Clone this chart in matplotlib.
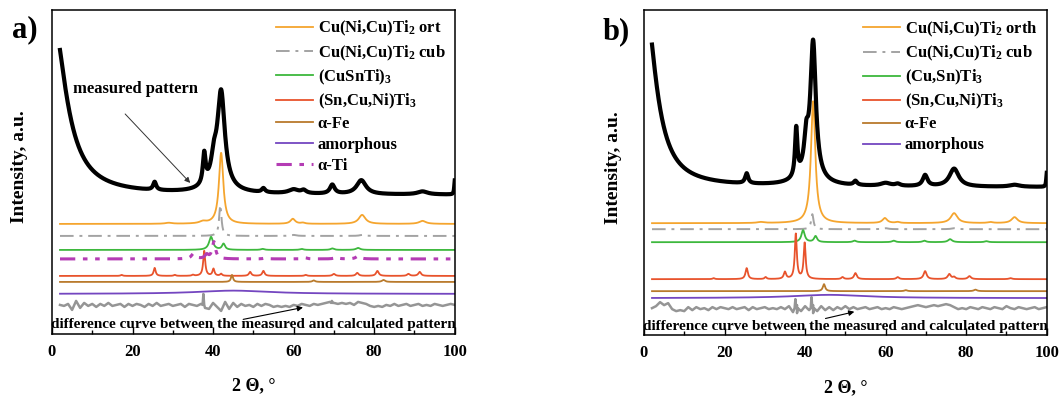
import numpy as np
import matplotlib
matplotlib.use('Agg')
import matplotlib.pyplot as plt
from matplotlib.ticker import MultipleLocator

plt.rcParams['font.family'] = 'Liberation Serif'
plt.rcParams['font.weight'] = 'bold'
plt.rcParams['axes.labelweight'] = 'bold'
plt.rcParams['mathtext.fontset'] = 'custom'
plt.rcParams['mathtext.rm'] = 'Liberation Serif:bold'
plt.rcParams['mathtext.it'] = 'Liberation Serif:bold'
plt.rcParams['mathtext.bf'] = 'Liberation Serif:bold'

#%% peak tables: (2theta, height, fwhm), heights in axis units

# panel a)
meas_a = [(0.0, 181, 8.0), (25.5, 8, 0.9), (37.8, 30, 0.8), (40.2, 18, 1.5), (41.0, 10, 6.0),
          (42.0, 92, 2.2), (52.5, 4, 1.0), (60.0, 4, 3.0), (62.5, 3, 1.5), (69.6, 9, 1.4),
          (76.8, 14, 2.8), (92.0, 3, 3.0), (100.0, 14, 0.3)]
ort_a = [(29.0, 1, 2.0), (37.5, 2, 2.0), (42.0, 71, 1.3), (59.8, 5, 1.4), (62.3, 1, 1.2),
         (77.0, 9, 2.0), (92.0, 3, 2.0)]
cub_a = [(41.8, 31, 0.7), (60.0, 1, 1.5), (77.0, 1, 1.5)]
cusnti_a = [(39.5, 13, 1.2), (42.6, 6, 0.9), (52.3, 1, 1.0), (62.0, 1, 1.0), (69.6, 1.5, 1.0),
            (76.0, 2, 1.2)]
snti_a = [(17.3, 1, 0.6), (25.5, 8, 0.6), (30.5, 1, 0.6), (35.0, 1, 0.6), (37.8, 25, 0.6),
          (40.1, 7, 0.6), (42.0, 2, 0.6), (49.2, 4, 0.7), (52.5, 5, 0.7), (63.0, 1, 0.7),
          (70.0, 2, 0.8), (75.8, 3, 0.8), (80.8, 5, 0.8), (88.5, 2, 0.8), (91.3, 4, 0.8)]
fe_a = [(44.7, 7, 0.6), (65.0, 1.5, 0.8), (82.3, 2, 0.9)]
amorph_a = [(45.0, 3.3, 22.0)]
ti_a = [(35.1, 5, 1.2), (38.4, 4, 1.0), (40.2, 17, 1.0), (53.0, 1, 1.0), (63.0, 1, 1.0),
        (70.6, 2, 1.0), (76.0, 3, 1.2)]

# stacking offsets of each curve (axis units)
base_a = {'meas': 139, 'ort': 110, 'cub': 98, 'cusnti': 84, 'ti': 75, 'snti': 58,
          'fe': 52, 'amorph': 40, 'diff': 29}

# difference curve a) at 2..100 deg, plus sharp spikes
diff_a = [0, -1, 1, -5, 4, -3, 2, -1, 1, -2,
          1, -1, 2, -1, 0, 1, -2, 1, -1, 1,
          0, -2, 1, -1, 2, -1, 0, 1, -1, 0,
          1, -2, 1, 0, -1, 1, -3, -4, 2, -2,
          -6, 3, -4, 2, -2, 1, -1, 0, -2, 1,
          -1, 1, 0, -2, -1, -2, -1, -2, 0, -1,
          1, 0, -1, 1, 0, 1, 2, 3, 2, 1,
          2, 1, 2, 0, 3, 2, 1, -1, -2, -1,
          -2, 0, -1, 1, -1, 0, 1, -1, 0, 1,
          -1, 0, -1, 1, 0, -1, 0, 1, 0]
diff_a_spk_x = [37.4, 37.6, 37.8, 69.3, 69.5, 69.7]
diff_a_spk_y = [0, 11, 0, 2, 4, 2]

# panel b)
meas_b = [(0.0, 195, 6.6), (25.5, 10, 0.9), (37.8, 48, 0.7), (40.3, 30, 1.2), (41.0, 12, 6.0),
          (42.0, 132, 1.6), (52.5, 4, 1.0), (60.0, 3, 3.0), (63.0, 2, 1.5), (69.8, 11, 1.4),
          (77.0, 18, 2.8), (92.0, 2, 3.0), (100.0, 14, 0.3)]
ort_b = [(29.0, 1, 2.0), (42.0, 122, 1.3), (59.8, 5, 1.4), (63.0, 1, 1.2), (77.0, 10, 2.0),
         (86.0, 1, 1.5), (92.0, 6, 1.8)]
cub_b = [(41.8, 15, 0.7), (60.0, 1, 1.5), (77.0, 1, 1.5)]
cusnti_b = [(39.5, 12, 1.0), (42.6, 6, 0.9), (52.3, 1.5, 1.0), (62.0, 1.5, 1.0), (69.6, 1.5, 1.0),
            (76.0, 3, 1.2), (85.0, 1, 1.0)]
snti_b = [(17.3, 1, 0.6), (25.5, 11, 0.7), (30.2, 2, 0.6), (35.0, 7, 0.7), (37.7, 45, 0.6),
          (39.9, 36, 0.6), (49.3, 2, 0.7), (52.5, 6, 0.8), (63.0, 2, 0.8), (69.8, 8, 0.9),
          (75.8, 5, 0.9), (77.0, 2, 0.8), (80.8, 3, 0.9), (91.0, 1, 0.9)]
fe_b = [(44.7, 7, 0.7), (65.0, 1, 0.8), (82.3, 1.5, 0.9)]
amorph_b = [(46.0, 3.3, 22.0)]

base_b = {'meas': 148, 'ort': 112, 'cub': 106, 'cusnti': 93, 'snti': 56,
          'fe': 44, 'amorph': 37, 'diff': 27}

diff_b = [0, 2, 6, 3, 5, -1, -3, -2, -3, 1,
          -2, 1, -1, 0, -2, 1, -1, 1, 0, -1,
          1, -1, 0, 1, -2, 1, -1, 0, 1, -1,
          0, -1, 1, -1, 2, -4, 3, -3, 2, -2,
          3, -3, 2, -2, 1, -2, 1, -1, 2, -1,
          1, -1, 0, 1, -1, 0, 1, -1, 0, -1,
          1, 0, -1, 0, 1, 2, 3, 2, 1, 2,
          3, 2, 3, 4, 3, 1, -1, 0, -1, 1,
          0, -1, 1, 0, -1, 1, 0, -1, 2, 0,
          -1, 1, 0, -1, 0, 1, -1, 0, 1]
diff_b_spk_x = [37.4, 37.6, 37.8, 38.0, 38.2, 41.4, 41.6, 41.8, 42.0, 42.2]
diff_b_spk_y = [0, 9, 0, -5, 0, 0, 11, 0, -5, 0]

labels_a = ['Cu(Ni,Cu)Ti$_2$ ort', 'Cu(Ni,Cu)Ti$_2$ cub', '(CuSnTi)$_3$', '(Sn,Cu,Ni)Ti$_3$',
            '\u03b1-Fe', 'amorphous', '\u03b1-Ti']
labels_b = ['Cu(Ni,Cu)Ti$_2$ orth', 'Cu(Ni,Cu)Ti$_2$ cub', '(Cu,Sn)Ti$_3$', '(Sn,Cu,Ni)Ti$_3$',
            '\u03b1-Fe', 'amorphous']

#%%
x = np.linspace(2, 100, 4000)


def profile(peaks):
    y = np.zeros_like(x)
    for pos, h, w in peaks:
        y += h / (1 + ((x - pos) / (w / 2)) ** 2)
    return y


def diff_curve(vals, spk_x, spk_y):
    dx = np.concatenate([np.arange(2, 2 + len(vals)), spk_x])
    dy = np.concatenate([vals, spk_y])
    o = np.argsort(dx)
    return dx[o], dy[o]


styles = {
    'ort': dict(color='#F5A52E', lw=1.3, ls='-'),
    'cub': dict(color='#A3A3A3', lw=1.4, ls=(0, (7, 3, 1.5, 3))),
    'cusnti': dict(color='#3DB83D', lw=1.3, ls='-'),
    'snti': dict(color='#E8532C', lw=1.3, ls='-'),
    'fe': dict(color='#B97A2C', lw=1.3, ls='-'),
    'amorph': dict(color='#7446C0', lw=1.3, ls='-'),
    'ti': dict(color='#B43CB4', lw=2.2, ls=(0, (5, 2.5, 1.5, 2.5, 1.5, 2.5))),
}


def draw(ax, phases, labels, meas, base, diff, top, arrow_xy, arrow_txt, ylab_x):
    ax.plot(x, base['meas'] + profile(meas), color='black', lw=3.0, zorder=5)
    handles = []
    for key, peaks in phases:
        h, = ax.plot(x, base[key] + profile(peaks), **styles[key])
        handles.append(h)
    dx, dy = diff
    ax.plot(dx, base['diff'] + dy, color='#959595', lw=1.8)
    ax.legend(handles, labels, loc='upper right', bbox_to_anchor=(1.0, 1.0), frameon=False,
              fontsize=12, handlelength=2.2, handletextpad=0.3, labelspacing=0.3,
              borderaxespad=0.15)
    ax.text(50, 9, 'difference curve between the measured and calculated pattern',
            ha='center', va='center', fontsize=11)
    ax.annotate('', xy=arrow_xy, xytext=arrow_txt,
                arrowprops=dict(arrowstyle='-|>', color='black', lw=0.8, mutation_scale=8))
    ax.set_xlim(0, 100)
    ax.set_ylim(0, top)
    ax.set_yticks([])
    ax.xaxis.set_major_locator(MultipleLocator(20))
    ax.xaxis.set_minor_locator(MultipleLocator(10))
    ax.tick_params(axis='x', which='major', direction='in', length=5, width=1, labelsize=12, pad=7)
    ax.tick_params(axis='x', which='minor', direction='in', length=3, width=1)
    for s in ax.spines.values():
        s.set_linewidth(1.1)
    ax.set_xlabel('2 \u0398, \u00b0', fontsize=13, fontweight='bold', labelpad=13)
    ax.set_ylabel('Intensity, a.u.', fontsize=14, fontweight='bold')
    ax.yaxis.set_label_coords(ylab_x, 0.515)


fig = plt.figure(figsize=(10.6, 3.98), dpi=100)
ax_a = fig.add_axes([0.049, 0.161, 0.380, 0.814])
ax_b = fig.add_axes([0.6075, 0.158, 0.380, 0.816])

draw(ax_a, [('ort', ort_a), ('cub', cub_a), ('cusnti', cusnti_a), ('snti', snti_a),
            ('fe', fe_a), ('amorph', amorph_a), ('ti', ti_a)],
     labels_a, meas_a, base_a, diff_curve(diff_a, diff_a_spk_x, diff_a_spk_y), 324,
     (63, 27), (46.8, 14), -0.06)
draw(ax_b, [('ort', ort_b), ('cub', cub_b), ('cusnti', cusnti_b), ('snti', snti_b),
            ('fe', fe_b), ('amorph', amorph_b)],
     labels_b, meas_b, base_b, diff_curve(diff_b, diff_b_spk_x, diff_b_spk_y), 325,
     (52.9, 24), (44.4, 16), -0.055)

ax_a.text(5.2, 245, 'measured pattern', ha='left', va='center', fontsize=12)
ax_a.annotate('', xy=(34.8, 149), xytext=(17.7, 222),
              arrowprops=dict(arrowstyle='-|>', color='#333333', lw=0.7, mutation_scale=8))

fig.text(0.011, 0.925, 'a)', fontsize=22, fontweight='bold', va='center', ha='left')
fig.text(0.568, 0.92, 'b)', fontsize=22, fontweight='bold', va='center', ha='left')

plt.savefig('out.png', dpi=100)
